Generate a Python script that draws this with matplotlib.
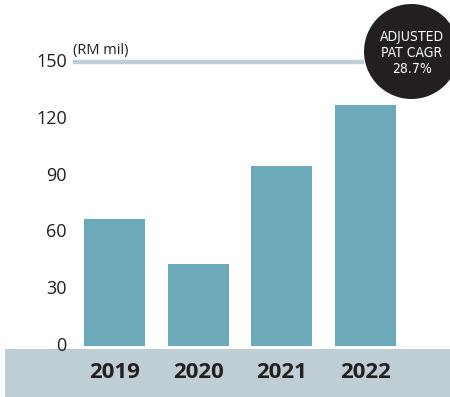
import matplotlib
matplotlib.use('Agg')
import matplotlib.pyplot as plt
from matplotlib.patches import Rectangle, Circle

plt.rcParams['font.family'] = ['Open Sans', 'DejaVu Sans']

years = ['2019', '2020', '2021', '2022']
pat = [67.2, 43.5, 95.2, 127.5]
yticks = [0, 30, 60, 90, 120, 150]
cagr_text = 'ADJUSTED\nPAT CAGR\n28.7%'

bar_color = '#6caaba'
band_color = '#bfcdd5'
dark = '#231f20'

W, H = 450, 397
fig = plt.figure(figsize=(W / 100, H / 100), dpi=100)

# grey band behind the year labels
fig.add_artist(Rectangle((5 / W, 0), 1, 48 / H, transform=fig.transFigure,
                         facecolor=band_color, edgecolor='none', zorder=0))

ax = fig.add_axes([73 / W, 51 / H, 377 / W, 284 / H])
ax.patch.set_alpha(0)
x = range(len(years))
ax.bar(x, pat, width=0.73, color=bar_color, zorder=2)
ax.set_xlim(-0.496, 4.01)
ax.set_ylim(0, 150)

# top reference line at 150
ax.plot([-0.496, 2.98], [150, 150], color=band_color, lw=3.2,
        solid_capstyle='butt', clip_on=False, zorder=1)
ax.text(-0.496, 152, '(RM mil)', fontsize=10.5, color=dark, ha='left', va='bottom')

for s in ax.spines.values():
    s.set_visible(False)
ax.set_xticks([])
ax.set_yticks([])
for v in yticks:
    ax.text(-0.57, v, str(v), fontsize=13, color=dark, ha='right', va='center',
            clip_on=False)
for i, yr in enumerate(years):
    fig.text((114.5 + i * 83.67) / W, 25 / H, yr, fontsize=16, fontweight='bold',
             color=dark, ha='center', va='center')

# CAGR badge
fig.add_artist(Circle((4.115, (H - 51.5) / 100), 0.475, transform=fig.dpi_scale_trans,
                      facecolor=dark, edgecolor='none', zorder=5))
fig.text(412 / W, (H - 53) / H, cagr_text, fontsize=10, color='white',
         family=['DejaVu Sans'], fontstretch='condensed', ha='center', va='center',
         linespacing=1.2, zorder=6)

fig.savefig('out.png', dpi=100)
